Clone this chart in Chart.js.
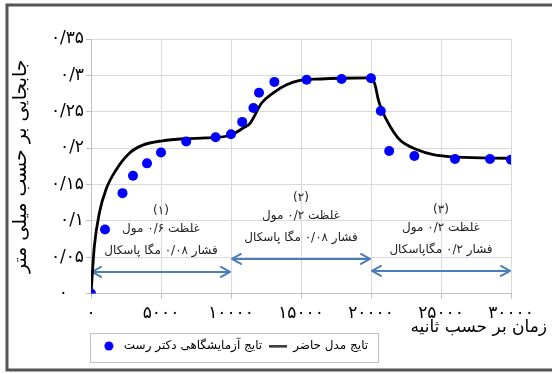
<!DOCTYPE html>
<html>
<head>
<meta charset="utf-8">
<script src="https://cdn.jsdelivr.net/npm/chart.js@4.4.1/dist/chart.umd.min.js"></script>
<style>
  html, body { margin: 0; padding: 0; background: #ffffff; }
  #wrap { position: relative; width: 552px; height: 374px; }
</style>
</head>
<body>
<div id="wrap"><canvas id="c"></canvas></div>
<script>
// Laboratory displacement measurements: time (s) and displacement (mm)
const expTime = [0, 1000, 2250, 3000, 4000, 5000, 6800, 8900, 10000, 10800, 11600, 12000, 13100, 15400, 17900, 20000, 20700, 21300, 23100, 26000, 28500, 30000];
const expDisp = [0, 0.088, 0.138, 0.162, 0.179, 0.194, 0.209, 0.215, 0.219, 0.236, 0.255, 0.276, 0.291, 0.294, 0.295, 0.296, 0.251, 0.196, 0.189, 0.185, 0.185, 0.184];

// Present model prediction: time (s) and displacement (mm)
const modelTime = [0, 240, 600, 1070, 1790, 2740, 3700, 5100, 6800, 8200, 10000, 10900, 11360, 12190, 13020, 13970, 14930, 16400, 17800, 20000, 20290, 20520, 20760, 21360, 22070, 23260, 24450, 26120, 30000];
const modelDisp = [0, 0.065, 0.111, 0.143, 0.170, 0.193, 0.204, 0.210, 0.213, 0.214, 0.218, 0.228, 0.234, 0.262, 0.276, 0.287, 0.293, 0.295, 0.296, 0.2965, 0.287, 0.2665, 0.253, 0.230, 0.211, 0.198, 0.191, 0.1876, 0.186];

// Axis tick labels (Persian digits)
const xTickLabels = ['۰', '۵۰۰۰', '۱۰۰۰۰', '۱۵۰۰۰', '۲۰۰۰۰', '۲۵۰۰۰', '۳۰۰۰۰'];
const yTickLabels = ['۰   ', '۰/۰۵', '۰/۱', '۰/۱۵', '۰/۲', '۰/۲۵', '۰/۳', '۰/۳۵'];

// Series names and axis titles
const seriesNames = ['تایج آزمایشگاهی دکتر رست', 'تایج مدل حاضر'];
const xTitle = 'زمان بر حسب ثانیه';
const yTitle = 'جابجایی بر حسب میلی متر';

// Loading stages: time span and conditions
const stageNumbers = ['(۱)', '(۲)', '(۳)'];
const stageConcentration = ['غلظت ۰/۶ مول', 'غلظت ۰/۲ مول', 'غلظت ۰/۲ مول'];
const stagePressure = ['فشار ۰/۰۸ مگا پاسکال', 'فشار ۰/۰۸ مگا پاسکال', 'فشار ۰/۲ مگاپاسکال'];
const stageStart = [0, 10000, 20000];
const stageEnd = [10000, 20000, 30000];

const FA = '"DejaVu Sans", sans-serif';
const PLOT_BOTTOM = 293.5;
const PAD_BOTTOM = 12;
const stageArrowY = [0.0296, 0.0475, 0.031];

function toPoints(xs, ys) { return xs.map((x, i) => ({ x: x, y: ys[i] })); }

// Legend symbols: a filled blue dot and a short black line
function makeDot() {
  const c = document.createElement('canvas');
  c.width = 10; c.height = 10;
  const g = c.getContext('2d');
  g.fillStyle = '#0000ff';
  g.beginPath(); g.arc(5, 5, 4.5, 0, Math.PI * 2); g.fill();
  return c;
}
function makeLine() {
  const c = document.createElement('canvas');
  c.width = 18; c.height = 3;
  const g = c.getContext('2d');
  g.fillStyle = '#000000';
  g.fillRect(0, 0.5, 18, 2);
  return c;
}
const legendSymbols = [makeDot(), makeLine()];

function drawArrow(ctx, x0, x1, y) {
  ctx.beginPath();
  ctx.moveTo(x0, y); ctx.lineTo(x1, y);
  ctx.moveTo(x0 + 9, y - 5); ctx.lineTo(x0, y); ctx.lineTo(x0 + 9, y + 5);
  ctx.moveTo(x1 - 9, y - 5); ctx.lineTo(x1, y); ctx.lineTo(x1 - 9, y + 5);
  ctx.stroke();
}

const decorPlugin = {
  id: 'decor',
  beforeDraw(chart) {
    const ctx = chart.ctx;
    ctx.save();
    ctx.strokeStyle = '#555555';
    ctx.lineWidth = 3;
    ctx.strokeRect(7, 5, 600, 365);
    ctx.restore();
  },
  afterLayout(chart) {
    const lg = chart.legend;
    if (!lg) return;
    lg.left = 90; lg.right = 378; lg.width = 288;
  },
  beforeDatasetsDraw(chart) {
    const ctx = chart.ctx;
    const xs = chart.scales.x, ys = chart.scales.y;
    ctx.save();
    ctx.strokeStyle = '#4a7ebb';
    ctx.lineWidth = 2;
    ctx.lineCap = 'round';
    ctx.lineJoin = 'round';
    for (let i = 0; i < stageStart.length; i++) {
      const x0 = xs.getPixelForValue(stageStart[i]) + 1;
      const x1 = xs.getPixelForValue(stageEnd[i]) - 1;
      const y = ys.getPixelForValue(stageArrowY[i]);
      drawArrow(ctx, x0, x1, y);
      const cx = (x0 + x1) / 2;
      ctx.fillStyle = '#222222';
      ctx.textAlign = 'center';
      ctx.textBaseline = 'middle';
      ctx.direction = 'rtl';
      ctx.font = '12px ' + FA;
      ctx.fillText(stageNumbers[i], cx, y - 61);
      ctx.fillText(stageConcentration[i], cx, y - 43);
      ctx.fillText(stagePressure[i], cx, y - 21);
    }
    ctx.restore();
  },
  afterDraw(chart) {
    const ctx = chart.ctx;
    const lg = chart.legend;
    ctx.save();
    if (lg) {
      ctx.strokeStyle = '#bfbfbf';
      ctx.lineWidth = 1;
      ctx.strokeRect(lg.left + 0.5, lg.top + 0.5, lg.right - lg.left, lg.bottom - lg.top);
    }
    ctx.fillStyle = '#000000';
    ctx.font = '17px ' + FA;
    ctx.textAlign = 'right';
    ctx.textBaseline = 'middle';
    ctx.direction = 'rtl';
    ctx.fillText(xTitle, 547, 328);
    ctx.restore();
  }
};

new Chart(document.getElementById('c'), {
  type: 'line',
  data: {
    datasets: [
      {
        label: seriesNames[0],
        type: 'scatter',
        data: toPoints(expTime, expDisp),
        showLine: false,
        pointRadius: 5,
        pointBackgroundColor: '#0000ff',
        pointBorderColor: '#0000ff',
        pointBorderWidth: 0,
        backgroundColor: '#0000ff',
        borderColor: '#0000ff'
      },
      {
        label: seriesNames[1],
        type: 'line',
        data: toPoints(modelTime, modelDisp),
        borderColor: '#000000',
        backgroundColor: '#000000',
        borderWidth: 2.8,
        pointRadius: 0,
        fill: false,
        cubicInterpolationMode: 'monotone'
      }
    ]
  },
  options: {
    responsive: true,
    maintainAspectRatio: false,
    animation: false,
    layout: { padding: { left: 6, right: 41, top: 39, bottom: PAD_BOTTOM } },
    plugins: {
      tooltip: { enabled: false },
      legend: {
        position: 'bottom',
        align: 'center',
        labels: {
          font: { family: FA, size: 12 },
          color: '#000000',
          usePointStyle: true,
          pointStyleWidth: 18,
          boxHeight: 8,
          padding: 7,
          generateLabels(chart) {
            const items = Chart.defaults.plugins.legend.labels.generateLabels(chart);
            items.forEach((it, i) => { it.pointStyle = legendSymbols[i]; });
            return items;
          }
        }
      }
    },
    scales: {
      x: {
        type: 'linear',
        min: 0,
        max: 30000,
        ticks: {
          stepSize: 5000,
          font: { family: FA, size: 17 },
          color: '#000000',
          padding: 5,
          maxRotation: 0,
          callback: (v, i) => xTickLabels[i]
        },
        grid: { color: '#d9d9d9', tickLength: 5, tickColor: '#bfbfbf' },
        border: { color: '#bfbfbf' },
        afterFit(s) {
          const lh = s.chart.legend ? s.chart.legend.height : 0;
          s.height = s.chart.height - PAD_BOTTOM - PLOT_BOTTOM - lh;
        }
      },
      y: {
        min: 0,
        max: 0.35,
        ticks: {
          stepSize: 0.05,
          font: { family: FA, size: 17 },
          color: '#000000',
          padding: 2,
          callback: (v, i) => yTickLabels[i]
        },
        grid: { color: '#d9d9d9', tickLength: 5, tickColor: '#bfbfbf' },
        border: { color: '#bfbfbf' },
        title: {
          display: true,
          text: yTitle,
          font: { family: FA, size: 19 },
          color: '#000000',
          padding: { top: 4, bottom: 0 }
        },
        afterFit(s) { s.width = 85; }
      }
    }
  },
  plugins: [decorPlugin]
});
</script>
</body>
</html>
